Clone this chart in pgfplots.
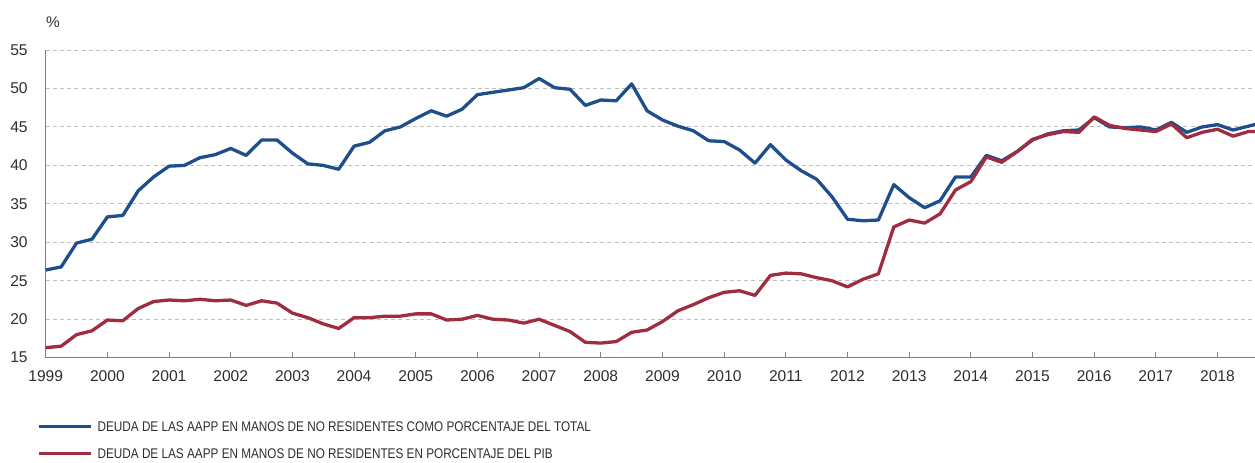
\documentclass[border=0pt]{standalone}
\usepackage{pgfplots}
\pgfplotsset{compat=1.18}
\usepackage{pgfplotstable}
\usepackage{fontspec}
\setmainfont{Liberation Sans}
\newfontfamily\narrowfont[FakeStretch=0.84]{Liberation Sans}

\definecolor{bdeblue}{HTML}{1F4E8C}
\definecolor{bdered}{HTML}{A02C40}
\definecolor{gridgray}{HTML}{BEBEBE}
\definecolor{axisgray}{HTML}{808080}
\definecolor{textgray}{HTML}{2E2E2E}

% quarterly data, 1999 Q1 onwards
\pgfplotstableread{
x       total pib
1999.00 26.4 16.3
1999.25 26.8 16.5
1999.50 29.9 18.0
1999.75 30.4 18.5
2000.00 33.3 19.9
2000.25 33.5 19.8
2000.50 36.7 21.4
2000.75 38.5 22.3
2001.00 39.9 22.5
2001.25 40.0 22.4
2001.50 41.0 22.6
2001.75 41.4 22.4
2002.00 42.2 22.5
2002.25 41.3 21.8
2002.50 43.3 22.4
2002.75 43.3 22.1
2003.00 41.6 20.8
2003.25 40.2 20.2
2003.50 40.0 19.4
2003.75 39.5 18.8
2004.00 42.5 20.2
2004.25 43.0 20.2
2004.50 44.5 20.4
2004.75 45.0 20.4
2005.00 46.1 20.7
2005.25 47.1 20.7
2005.50 46.4 19.9
2005.75 47.3 20.0
2006.00 49.2 20.5
2006.25 49.5 20.0
2006.50 49.8 19.9
2006.75 50.1 19.5
2007.00 51.3 20.0
2007.25 50.1 19.2
2007.50 49.9 18.4
2007.75 47.8 17.0
2008.00 48.5 16.9
2008.25 48.4 17.1
2008.50 50.6 18.3
2008.75 47.1 18.6
2009.00 45.9 19.7
2009.25 45.1 21.1
2009.50 44.5 21.9
2009.75 43.2 22.8
2010.00 43.1 23.5
2010.25 42.0 23.7
2010.50 40.3 23.1
2010.75 42.7 25.7
2011.00 40.7 26.0
2011.25 39.3 25.9
2011.50 38.2 25.4
2011.75 35.9 25.0
2012.00 33.0 24.2
2012.25 32.8 25.2
2012.50 32.9 25.9
2012.75 37.5 32.0
2013.00 35.8 32.9
2013.25 34.5 32.5
2013.50 35.4 33.7
2013.75 38.5 36.8
2014.00 38.5 37.9
2014.25 41.3 41.1
2014.50 40.6 40.4
2014.75 41.8 41.8
2015.00 43.3 43.4
2015.25 44.1 44.0
2015.50 44.5 44.4
2015.75 44.6 44.3
2016.00 46.2 46.3
2016.25 45.0 45.2
2016.50 44.9 44.8
2016.75 45.0 44.6
2017.00 44.6 44.4
2017.25 45.6 45.4
2017.50 44.3 43.6
2017.75 45.0 44.3
2018.00 45.3 44.7
2018.25 44.6 43.8
2018.50 45.1 44.4
2018.75 45.6 44.4
}\deuda

\begin{document}
\begin{tikzpicture}
\useasboundingbox (0,0) rectangle (627.5pt,-231pt);

\begin{axis}[
    at={(22.85pt,-178.85pt)}, anchor=south west,
    scale only axis,
    width=604.65pt, height=153.85pt,
    xmin=1999, xmax=2018.606,
    ymin=15, ymax=55,
    xtick={1999,...,2018},
    ytick={15,20,...,55},
    /pgf/number format/1000 sep={},
    /pgf/number format/assume math mode=true,
    scaled ticks=false,
    axis x line*=bottom, axis y line*=left,
    axis line style={-, draw=axisgray, line width=0.6pt},
    tick align=inside,
    major tick length=3pt,
    xtick style={draw=axisgray, line width=0.5pt},
    ytick style={draw=none},
    ymajorgrids,
    major grid style={dashed, dash pattern=on 2pt off 1.6pt, draw=gridgray, line width=0.5pt},
    ticklabel style={font=\fontsize{7.8}{9}\selectfont, text=textgray},
    xticklabel style={yshift=-3pt},
    yticklabel style={xshift=-5.5pt},
    legend style={
        at={(axis description cs:-0.0072,-0.2675)}, anchor=west,
        draw=none, fill=none, inner sep=0pt,
        font=\narrowfont\fontsize{7}{8}\selectfont, text=textgray,
        row sep=8.5pt,
        nodes={inner sep=0pt, text height=5pt, text depth=0pt},
    },
    legend cell align=left,
    legend image code/.code={\draw[#1, line width=1.6pt] (0pt,0pt) -- (26pt,0pt);},
]

\addplot[bdeblue, line width=1.65pt, line join=round] table[x=x, y=total] {\deuda};
\addlegendentry{\hspace{2.5pt}DEUDA DE LAS AAPP EN MANOS DE NO RESIDENTES COMO PORCENTAJE DEL TOTAL}

\addplot[bdered, line width=1.65pt, line join=round] table[x=x, y=pib] {\deuda};
\addlegendentry{\hspace{2.5pt}DEUDA DE LAS AAPP EN MANOS DE NO RESIDENTES EN PORCENTAJE DEL PIB}

\end{axis}

\node[font=\fontsize{7.7}{9}\selectfont, text=textgray] at (26.5pt,-11pt) {\%};

\end{tikzpicture}
\end{document}
